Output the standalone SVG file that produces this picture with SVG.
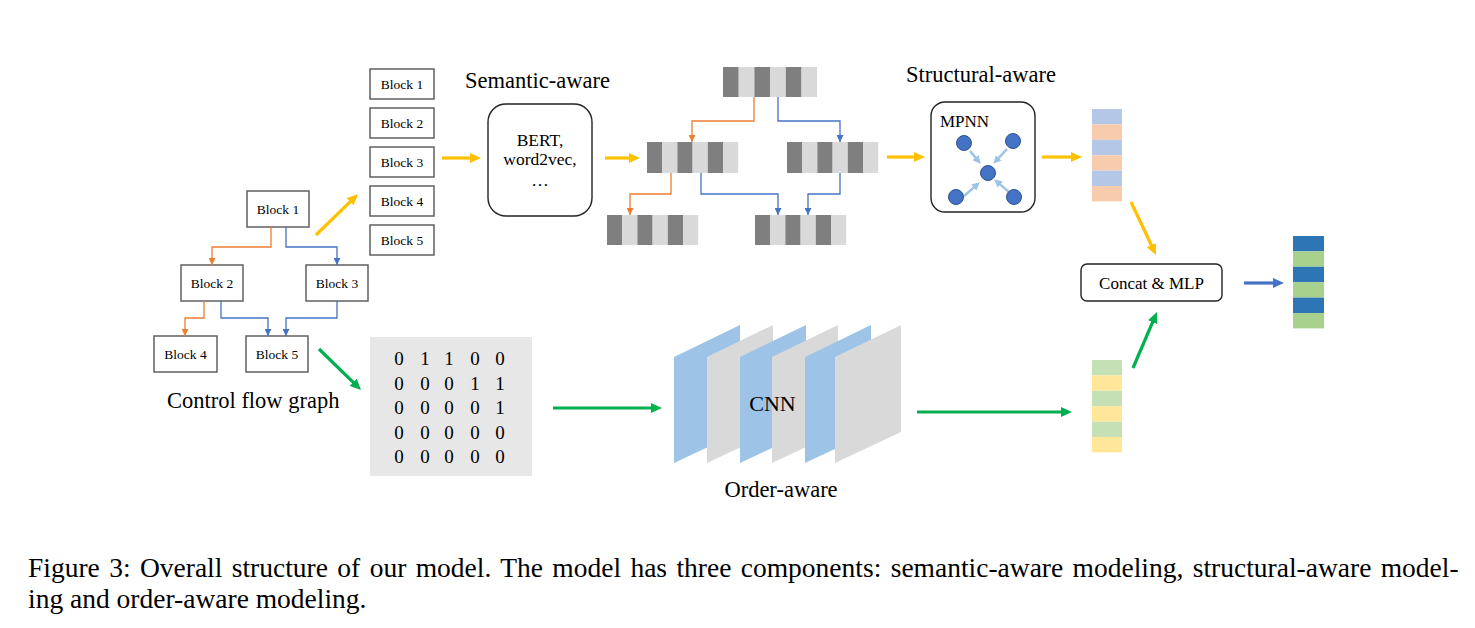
<svg xmlns="http://www.w3.org/2000/svg" width="1475" height="628" viewBox="0 0 1475 628">
<style>
text{font-family:"Liberation Serif","Times New Roman",serif;fill:#000}
.blk{fill:#fff;stroke:#606060;stroke-width:1.5}
.bt{font-size:13.5px;text-anchor:middle}
.lbl{font-size:22.5px}
.dk{fill:#7f7f7f}
.lt{fill:#d9d9d9}
.or{fill:none;stroke:#ed7d31;stroke-width:1.3}
.bl{fill:none;stroke:#4472c4;stroke-width:1.3}
.ty{stroke:#ffc000;stroke-width:3.2;fill:none}
.tg{stroke:#00b050;stroke-width:3.2;fill:none}
.tb{stroke:#4472c4;stroke-width:3.2;fill:none}
.lb{stroke:#9dc3e6;stroke-width:2.5;fill:none}
.mx{font-size:19px;text-anchor:middle}
.node{fill:#4472c4;stroke:#2f528f;stroke-width:1}
.cap{font-size:27.5px}
</style>
<defs>
<marker id="hy" viewBox="0 0 11 10" refX="3" refY="5" markerWidth="11" markerHeight="10" markerUnits="userSpaceOnUse" orient="auto"><path d="M0,0 L11,5 L0,10 z" fill="#ffc000"/></marker>
<marker id="hg" viewBox="0 0 11 10" refX="3" refY="5" markerWidth="11" markerHeight="10" markerUnits="userSpaceOnUse" orient="auto"><path d="M0,0 L11,5 L0,10 z" fill="#00b050"/></marker>
<marker id="hb" viewBox="0 0 11 10" refX="3" refY="5" markerWidth="11" markerHeight="10" markerUnits="userSpaceOnUse" orient="auto"><path d="M0,0 L11,5 L0,10 z" fill="#4472c4"/></marker>
<marker id="hl" viewBox="0 0 8 8" refX="3" refY="4" markerWidth="8" markerHeight="8" markerUnits="userSpaceOnUse" orient="auto"><path d="M0,0 L8,4 L0,8 z" fill="#9dc3e6"/></marker>
<marker id="so" viewBox="0 0 7 7" refX="7" refY="3.5" markerWidth="7" markerHeight="7" markerUnits="userSpaceOnUse" orient="auto"><path d="M0,0 L7,3.5 L0,7 z" fill="#ed7d31"/></marker>
<marker id="sb" viewBox="0 0 7 7" refX="7" refY="3.5" markerWidth="7" markerHeight="7" markerUnits="userSpaceOnUse" orient="auto"><path d="M0,0 L7,3.5 L0,7 z" fill="#4472c4"/></marker>
</defs>

<!-- Control flow graph -->
<g id="cfg-block1"><rect class="blk" x="247" y="191" width="62" height="36"/><text class="bt" x="278" y="214">Block 1</text></g>
<g id="cfg-block2"><rect class="blk" x="181" y="265" width="62" height="36"/><text class="bt" x="212" y="288">Block 2</text></g>
<g id="cfg-block3"><rect class="blk" x="306" y="265" width="62" height="36"/><text class="bt" x="337" y="288">Block 3</text></g>
<g id="cfg-block4"><rect class="blk" x="154" y="336" width="63" height="36"/><text class="bt" x="185.5" y="359">Block 4</text></g>
<g id="cfg-block5"><rect class="blk" x="246" y="336" width="62" height="36"/><text class="bt" x="277" y="359">Block 5</text></g>
<g id="cfg-label"><text class="lbl" x="167" y="408">Control flow graph</text></g>

<!-- Block list -->
<g id="list-block1"><rect class="blk" x="370" y="69" width="64" height="30"/><text class="bt" x="402" y="88.5">Block 1</text></g>
<g id="list-block2"><rect class="blk" x="370" y="108" width="64" height="30"/><text class="bt" x="402" y="127.5">Block 2</text></g>
<g id="list-block3"><rect class="blk" x="370" y="147" width="64" height="30"/><text class="bt" x="402" y="166.5">Block 3</text></g>
<g id="list-block4"><rect class="blk" x="370" y="186" width="64" height="30"/><text class="bt" x="402" y="205.5">Block 4</text></g>
<g id="list-block5"><rect class="blk" x="370" y="225" width="64" height="30"/><text class="bt" x="402" y="244.5">Block 5</text></g>

<!-- Semantic-aware -->
<g id="semantic-label"><text class="lbl" x="465" y="88">Semantic-aware</text></g>
<g id="bert"><rect x="488" y="104" width="104" height="112" rx="18" fill="#fff" stroke="#222" stroke-width="1.4"/>
<text x="540" y="146" font-size="17.5" text-anchor="middle">BERT,</text>
<text x="540" y="165" font-size="17.5" text-anchor="middle">word2vec,</text>
<text x="540" y="186" font-size="17.5" text-anchor="middle">…</text></g>

<!-- Embedding vectors -->
<g id="vec-top">
<rect class="dk" x="723" y="67" width="15.7" height="30"/><rect class="lt" x="738.7" y="67" width="15.7" height="30"/><rect class="dk" x="754.4" y="67" width="15.7" height="30"/><rect class="lt" x="770.1" y="67" width="15.7" height="30"/><rect class="dk" x="785.8" y="67" width="15.7" height="30"/><rect class="lt" x="801.5" y="67" width="15.5" height="30"/>
</g>
<g id="vec-mid-left">
<rect class="dk" x="647" y="142" width="15.2" height="31"/><rect class="lt" x="662.2" y="142" width="15.2" height="31"/><rect class="dk" x="677.4" y="142" width="15.2" height="31"/><rect class="lt" x="692.6" y="142" width="15.2" height="31"/><rect class="dk" x="707.8" y="142" width="15.2" height="31"/><rect class="lt" x="723" y="142" width="15.2" height="31"/>
</g>
<g id="vec-mid-right">
<rect class="dk" x="787" y="142" width="15.2" height="31"/><rect class="lt" x="802.2" y="142" width="15.2" height="31"/><rect class="dk" x="817.4" y="142" width="15.2" height="31"/><rect class="lt" x="832.6" y="142" width="15.2" height="31"/><rect class="dk" x="847.8" y="142" width="15.2" height="31"/><rect class="lt" x="863" y="142" width="15.2" height="31"/>
</g>
<g id="vec-bot-left">
<rect class="dk" x="607" y="215" width="15.2" height="30"/><rect class="lt" x="622.2" y="215" width="15.2" height="30"/><rect class="dk" x="637.4" y="215" width="15.2" height="30"/><rect class="lt" x="652.6" y="215" width="15.2" height="30"/><rect class="dk" x="667.8" y="215" width="15.2" height="30"/><rect class="lt" x="683" y="215" width="15.2" height="30"/>
</g>
<g id="vec-bot-right">
<rect class="dk" x="755" y="215" width="15.2" height="30"/><rect class="lt" x="770.2" y="215" width="15.2" height="30"/><rect class="dk" x="785.4" y="215" width="15.2" height="30"/><rect class="lt" x="800.6" y="215" width="15.2" height="30"/><rect class="dk" x="815.8" y="215" width="15.2" height="30"/><rect class="lt" x="831" y="215" width="15.2" height="30"/>
</g>

<!-- Structural-aware -->
<g id="structural-label"><text class="lbl" x="906" y="82">Structural-aware</text></g>
<g id="mpnn"><rect x="931" y="102" width="104" height="110" rx="14" fill="#fff" stroke="#222" stroke-width="1.4"/>
<text x="940" y="127" font-size="17">MPNN</text>
<line class="lb" x1="970" y1="151" x2="977.5" y2="159.9" marker-end="url(#hl)"/>
<line class="lb" x1="1007" y1="149" x2="996.7" y2="160.1" marker-end="url(#hl)"/>
<line class="lb" x1="964" y1="196" x2="976" y2="185.6" marker-end="url(#hl)"/>
<line class="lb" x1="1010" y1="193" x2="998" y2="182.6" marker-end="url(#hl)"/>
<circle class="node" cx="964" cy="143" r="7.5"/>
<circle class="node" cx="1013" cy="141" r="7.5"/>
<circle class="node" cx="988" cy="173" r="7.5"/>
<circle class="node" cx="956" cy="197" r="7.5"/>
<circle class="node" cx="1014" cy="197" r="7.5"/>
</g>

<g id="vec-struct">
<rect fill="#b4c7e7" x="1092" y="109" width="30" height="15.4"/><rect fill="#f8cbad" x="1092" y="124.4" width="30" height="15.4"/><rect fill="#b4c7e7" x="1092" y="139.8" width="30" height="15.4"/><rect fill="#f8cbad" x="1092" y="155.2" width="30" height="15.4"/><rect fill="#b4c7e7" x="1092" y="170.6" width="30" height="15.4"/><rect fill="#f8cbad" x="1092" y="186" width="30" height="15.4"/>
</g>

<!-- Adjacency matrix -->
<g id="matrix"><rect x="370" y="337" width="162" height="139" fill="#e7e7e7"/>
<g class="mx">
<text x="399" y="365">0</text><text x="425" y="365">1</text><text x="449" y="365">1</text><text x="475" y="365">0</text><text x="500" y="365">0</text>
<text x="399" y="389.5">0</text><text x="425" y="389.5">0</text><text x="449" y="389.5">0</text><text x="475" y="389.5">1</text><text x="500" y="389.5">1</text>
<text x="399" y="414">0</text><text x="425" y="414">0</text><text x="449" y="414">0</text><text x="475" y="414">0</text><text x="500" y="414">1</text>
<text x="399" y="438.5">0</text><text x="425" y="438.5">0</text><text x="449" y="438.5">0</text><text x="475" y="438.5">0</text><text x="500" y="438.5">0</text>
<text x="399" y="463">0</text><text x="425" y="463">0</text><text x="449" y="463">0</text><text x="475" y="463">0</text><text x="500" y="463">0</text>
</g></g>

<!-- CNN -->
<g id="cnn">
<polygon fill="#9dc3e6" points="674,357 740,325 740,432 674,463"/>
<polygon fill="#d9d9d9" points="707,357 773,325 773,432 707,463"/>
<polygon fill="#9dc3e6" points="740,357 806,325 806,432 740,463"/>
<polygon fill="#d9d9d9" points="772,357 838,325 838,432 772,463"/>
<polygon fill="#9dc3e6" points="805,357 871,325 871,432 805,463"/>
<polygon fill="#d9d9d9" points="835,357 901,325 901,432 835,463"/>
<text x="772.5" y="411" font-size="22" text-anchor="middle">CNN</text>
</g>
<g id="order-label"><text class="lbl" x="781" y="497" text-anchor="middle">Order-aware</text></g>

<g id="vec-order">
<rect fill="#c5e0b4" x="1092" y="360" width="30" height="15.4"/><rect fill="#ffe699" x="1092" y="375.4" width="30" height="15.4"/><rect fill="#c5e0b4" x="1092" y="390.8" width="30" height="15.4"/><rect fill="#ffe699" x="1092" y="406.2" width="30" height="15.4"/><rect fill="#c5e0b4" x="1092" y="421.6" width="30" height="15.4"/><rect fill="#ffe699" x="1092" y="437" width="30" height="15.4"/>
</g>

<!-- Concat & MLP -->
<g id="concat"><rect x="1081" y="264" width="141" height="37" rx="6" fill="#fff" stroke="#222" stroke-width="1.4"/>
<text x="1151.5" y="289" font-size="17" text-anchor="middle">Concat &amp; MLP</text></g>

<g id="vec-out">
<rect fill="#2e75b6" x="1293" y="236" width="31" height="15.4"/><rect fill="#a9d18e" x="1293" y="251.4" width="31" height="15.4"/><rect fill="#2e75b6" x="1293" y="266.8" width="31" height="15.4"/><rect fill="#a9d18e" x="1293" y="282.2" width="31" height="15.4"/><rect fill="#2e75b6" x="1293" y="297.6" width="31" height="15.4"/><rect fill="#a9d18e" x="1293" y="313" width="31" height="15.4"/>
</g>

<!-- Connectors -->
<g id="connectors">
<path class="or" d="M271,227 V247 H212 V265" marker-end="url(#so)"/>
<path class="bl" d="M286,227 V247 H337 V265" marker-end="url(#sb)"/>
<path class="or" d="M204,301 V318 H185 V336" marker-end="url(#so)"/>
<path class="bl" d="M221,301 V318 H268 V336" marker-end="url(#sb)"/>
<path class="bl" d="M337,301 V318 H286 V336" marker-end="url(#sb)"/>
<path class="or" d="M754,97 V121 H692 V142" marker-end="url(#so)"/>
<path class="bl" d="M778,97 V121 H840 V142" marker-end="url(#sb)"/>
<path class="or" d="M671,173 V194 H630 V215" marker-end="url(#so)"/>
<path class="bl" d="M701,173 V194 H778 V215" marker-end="url(#sb)"/>
<path class="bl" d="M840,173 V194 H808 V215" marker-end="url(#sb)"/>
<line class="ty" x1="316" y1="235" x2="352.3" y2="199.6" marker-end="url(#hy)"/>
<line class="tg" x1="319" y1="349" x2="355.3" y2="384.4" marker-end="url(#hg)"/>
<line class="ty" x1="442" y1="158" x2="473" y2="158" marker-end="url(#hy)"/>
<line class="ty" x1="605" y1="158" x2="632" y2="158" marker-end="url(#hy)"/>
<line class="ty" x1="887" y1="157" x2="917" y2="157" marker-end="url(#hy)"/>
<line class="ty" x1="1042" y1="157" x2="1074" y2="157" marker-end="url(#hy)"/>
<line class="ty" x1="1131" y1="202" x2="1152.6" y2="247.8" marker-end="url(#hy)"/>
<line class="tg" x1="553" y1="408" x2="654" y2="408" marker-end="url(#hg)"/>
<line class="tg" x1="917" y1="412" x2="1064" y2="412" marker-end="url(#hg)"/>
<line class="tg" x1="1133" y1="368" x2="1153.8" y2="319.4" marker-end="url(#hg)"/>
<line class="tb" x1="1244" y1="283" x2="1276" y2="283" marker-end="url(#hb)"/>
</g>

<!-- Caption -->
<g id="caption">
<text class="cap" x="28" y="576.5" word-spacing="2.5">Figure 3: Overall structure of our model. The model has three components: semantic-aware modeling, structural-aware model-</text>
<text class="cap" x="28" y="607.5">ing and order-aware modeling.</text>
</g>
</svg>
